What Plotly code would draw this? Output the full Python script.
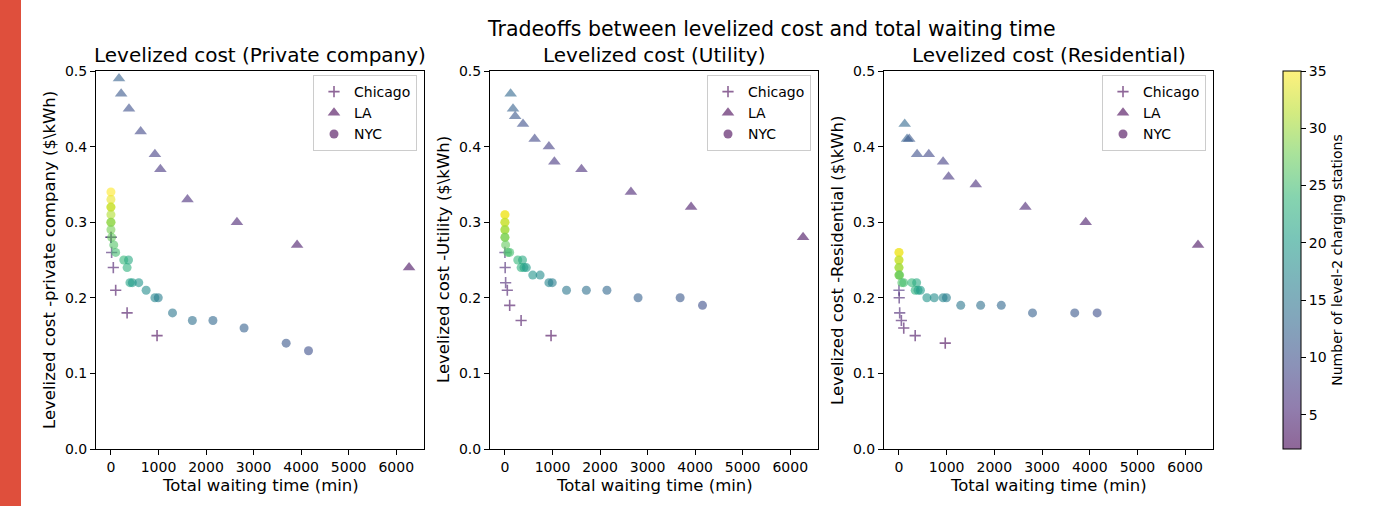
import plotly.graph_objects as go

W, H = 1374, 506

# ---------------- data ----------------
CHI_time = [0, 5, 15, 50, 100, 340, 970]
CHI_stations = [6, 5, 5, 4, 3, 3, 2]
CHI_private = [0.28, 0.28, 0.26, 0.24, 0.21, 0.18, 0.15]
CHI_utility = [0.26, 0.24, 0.22, 0.21, 0.19, 0.17, 0.15]
CHI_residential = [0.21, 0.20, 0.18, 0.17, 0.16, 0.15, 0.14]

LA_time = [120, 170, 215, 380, 625, 925, 1040, 1610, 2650, 3915, 6270]
LA_stations = [13, 12, 11, 10, 9, 8, 7, 6, 5, 4, 3]
LA_private = [None, 0.49, 0.47, 0.45, 0.42, 0.39, 0.37, 0.33, 0.30, 0.27, 0.24]
LA_utility = [0.47, 0.45, 0.44, 0.43, 0.41, 0.40, 0.38, 0.37, 0.34, 0.32, 0.28]
LA_residential = [0.43, 0.41, 0.41, 0.39, 0.39, 0.38, 0.36, 0.35, 0.32, 0.30, 0.27]

NYC_time = [0, 0, 0, 0, 0, 0, 0, 0, 15, 60, 100, 270, 340, 370, 400, 450,
            585, 740, 925, 995, 1295, 1712, 2145, 2800, 3685, 4155]
NYC_stations = [35, 34, 33, 32, 31, 30, 29, 28, 27, 26, 25, 24, 23, 22, 21, 20,
                19, 18, 17, 16, 15, 14, 13, 12, 11, 10]
NYC_private = [0.34, 0.33, 0.32, 0.32, 0.31, 0.30, 0.30, 0.29, 0.28, 0.27, 0.26, 0.25, 0.24, 0.25, 0.22, 0.22,
               0.22, 0.21, 0.20, 0.20, 0.18, 0.17, 0.17, 0.16, 0.14, 0.13]
NYC_utility = [0.31, 0.31, 0.30, 0.30, 0.29, 0.29, 0.28, 0.28, 0.27, 0.26, 0.26, 0.25, 0.24, 0.25, 0.24, 0.24,
               0.23, 0.23, 0.22, 0.22, 0.21, 0.21, 0.21, 0.20, 0.20, 0.19]
NYC_residential = [0.26, 0.26, 0.25, 0.25, 0.24, 0.24, 0.23, 0.23, 0.23, 0.22, 0.22, 0.22, 0.21, 0.22, 0.21, 0.21,
                   0.20, 0.20, 0.20, 0.20, 0.19, 0.19, 0.19, 0.18, 0.18, 0.18]

PANEL_TITLES = ["Levelized cost (Private company)", "Levelized cost (Utility)", "Levelized cost (Residential)"]
Y_LABELS = ["Levelized cost -private company ($\\kWh)", "Levelized cost -Utility ($\\kWh)",
            "Levelized cost -Residential ($\\kWh)"]
X_LABEL = "Total waiting time (min)"
SUPTITLE = "Tradeoffs between levelized cost and total waiting time"
CBAR_LABEL = "Number of level-2 charging stations"
X_TICKS = [0, 1000, 2000, 3000, 4000, 5000, 6000]
Y_TICKS = [0.0, 0.1, 0.2, 0.3, 0.4, 0.5]
CBAR_TICKS = [5, 10, 15, 20, 25, 30, 35]

# ---------------- styling ----------------
FONT = "DejaVu Sans"
VIRIDIS = ['#440154', '#482878', '#3e4989', '#31688e', '#26828e',
           '#1f9e89', '#35b779', '#6ece58', '#b5de2b', '#fde725']
ALPHA = 0.6


def blend(hexc, a=ALPHA):
    r, g, b = int(hexc[1:3], 16), int(hexc[3:5], 16), int(hexc[5:7], 16)
    f = lambda c: int(round(a * c + (1 - a) * 255))
    return f"rgb({f(r)},{f(g)},{f(b)})"


n = len(VIRIDIS)
VIR_SCALE = [[i / (n - 1), c] for i, c in enumerate(VIRIDIS)]
VIR_BLEND = [[i / (n - 1), blend(c)] for i, c in enumerate(VIRIDIS)]
CMIN, CMAX = 2, 35

# axes pixel boxes
AX_PX = [(96, 424), (490, 818), (884, 1213)]
AX_TOP, AX_BOT = 71, 449
Y_DOM = [1 - AX_BOT / H, 1 - AX_TOP / H]

fig = go.Figure()

panels = [
    (CHI_private, LA_private, NYC_private),
    (CHI_utility, LA_utility, NYC_utility),
    (CHI_residential, LA_residential, NYC_residential),
]

layout_axes = {}
annotations = []
for i, (chi, la, nyc) in enumerate(panels):
    k = "" if i == 0 else str(i + 1)
    xa, ya = "x" + k, "y" + k
    leg = "legend" + k
    common = dict(xaxis=xa, yaxis=ya, mode="markers", showlegend=False, hoverinfo="x+y")
    fig.add_trace(go.Scatter(x=CHI_time, y=chi, **common,
                             marker=dict(symbol="cross-thin", size=8, color=CHI_stations, colorscale=VIR_SCALE,
                                         cmin=CMIN, cmax=CMAX, opacity=ALPHA,
                                         line=dict(width=1.6, color=CHI_stations, colorscale=VIR_SCALE,
                                                   cmin=CMIN, cmax=CMAX))))
    fig.add_trace(go.Scatter(x=LA_time, y=la, **common,
                             marker=dict(symbol="triangle-up", size=11, color=LA_stations, colorscale=VIR_SCALE,
                                         cmin=CMIN, cmax=CMAX, opacity=ALPHA, line=dict(width=0))))
    fig.add_trace(go.Scatter(x=NYC_time, y=nyc, **common,
                             marker=dict(symbol="circle", size=9, color=NYC_stations, colorscale=VIR_SCALE,
                                         cmin=CMIN, cmax=CMAX, opacity=ALPHA, line=dict(width=0))))
    # legend entries
    for name, sym, size, extra in [
        ("Chicago", "cross-thin", 8, dict(line=dict(width=1.6, color="#440154"))),
        ("LA", "triangle-up", 11, dict(line=dict(width=0))),
        ("NYC", "circle", 9, dict(line=dict(width=0))),
    ]:
        fig.add_trace(go.Scatter(x=[None], y=[None], xaxis=xa, yaxis=ya, mode="markers", name=name,
                                 legend=leg, showlegend=True,
                                 marker=dict(symbol=sym, size=size, color="#440154", opacity=ALPHA, **extra)))

    x0, x1 = AX_PX[i]
    axstyle = dict(showline=True, mirror=True, linecolor="black", linewidth=1, ticks="outside",
                   ticklen=5, tickwidth=1, tickcolor="black", showgrid=False, zeroline=False,
                   automargin=False, tickfont=dict(family=FONT, size=14, color="black"))
    layout_axes["xaxis" + k] = dict(domain=[x0 / W, x1 / W], range=[-314, 6584], tickvals=X_TICKS,
                                    anchor=ya, **axstyle)
    layout_axes["yaxis" + k] = dict(domain=Y_DOM, range=[0, 0.5], tickvals=Y_TICKS, tickformat=".1f",
                                    anchor=xa, **axstyle)
    layout_axes[leg] = dict(x=(x1 - 7) / W, y=1 - (AX_TOP + 4) / H, xanchor="right", yanchor="top",
                            bgcolor="rgba(255,255,255,0.8)", bordercolor="#cccccc", borderwidth=1,
                            font=dict(family=FONT, size=14, color="black"), itemwidth=30,
                            tracegroupgap=0)
    cx = (x0 + x1) / 2
    annotations.append(dict(text=PANEL_TITLES[i], x=cx / W, y=1 - 55 / H, xref="paper", yref="paper",
                            showarrow=False, xanchor="center", yanchor="middle",
                            font=dict(family=FONT, size=20, color="black")))
    annotations.append(dict(text=X_LABEL, x=cx / W, y=1 - 485 / H, xref="paper", yref="paper",
                            showarrow=False, xanchor="center", yanchor="middle",
                            font=dict(family=FONT, size=16.5, color="black")))
    annotations.append(dict(text=Y_LABELS[i], x=(x0 - 47) / W, y=1 - 260 / H, xref="paper", yref="paper",
                            showarrow=False, xanchor="center", yanchor="middle", textangle=-90,
                            font=dict(family=FONT, size=16.5, color="black")))

annotations.append(dict(text=SUPTITLE, x=771.5 / W, y=1 - 29 / H, xref="paper", yref="paper",
                        showarrow=False, xanchor="center", yanchor="middle",
                        font=dict(family=FONT, size=20.5, color="black")))

# colorbar carrier
fig.add_trace(go.Scatter(x=[None, None], y=[None, None], mode="markers", showlegend=False, hoverinfo="skip",
                         marker=dict(color=[CMIN, CMAX], cmin=CMIN, cmax=CMAX, colorscale=VIR_BLEND,
                                     showscale=True,
                                     colorbar=dict(x=1283 / W, xanchor="left", y=1 - 260 / H, yanchor="middle",
                                                   lenmode="pixels", len=AX_BOT - AX_TOP,
                                                   thicknessmode="pixels", thickness=18,
                                                   xpad=0, ypad=0, outlinecolor="black", outlinewidth=1,
                                                   tickvals=CBAR_TICKS, ticks="outside", ticklen=5,
                                                   tickcolor="black",
                                                   tickfont=dict(family=FONT, size=14, color="black"),
                                                   title=dict(text=CBAR_LABEL, side="right",
                                                              font=dict(family=FONT, size=14, color="black"))))))

fig.update_layout(
    width=W, height=H, margin=dict(l=0, r=0, t=0, b=0, pad=0, autoexpand=False),
    paper_bgcolor="white", plot_bgcolor="white",
    font=dict(family=FONT, size=14, color="black"),
    annotations=annotations,
    shapes=[dict(type="rect", xref="paper", yref="paper", x0=0, x1=21 / W, y0=0, y1=1,
                 fillcolor="#df4f3c", line=dict(width=0), layer="below")],
    **layout_axes,
)

fig.write_html("out.html", config={"displayModeBar": False},
               post_script="document.body.style.margin='0';document.body.style.overflow='hidden';")
